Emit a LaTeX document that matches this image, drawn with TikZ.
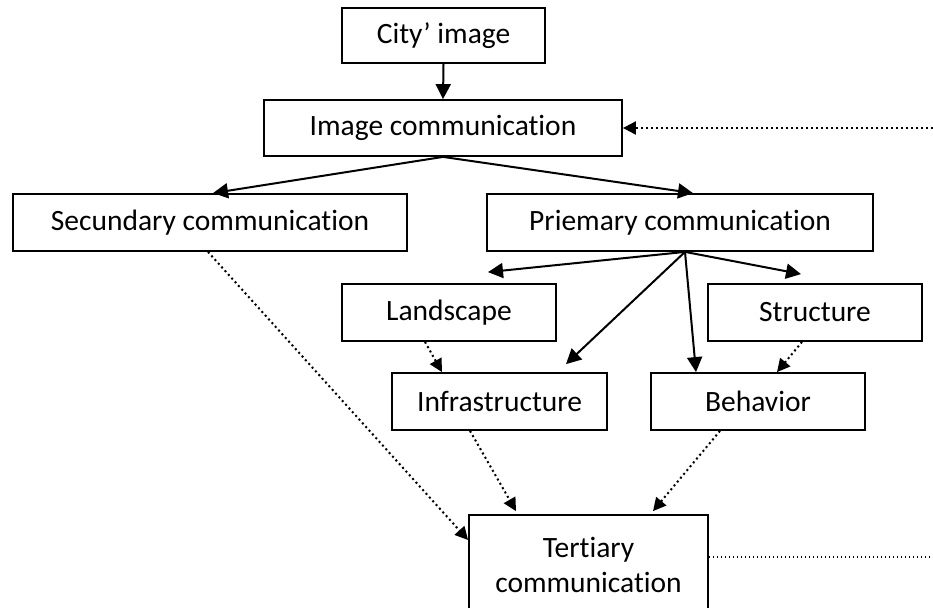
\documentclass[tikz,border=0pt]{standalone}
\usepackage{fontspec}
\setmainfont{Carlito}[Ligatures=NoCommon]
\usetikzlibrary{arrows.meta,positioning}

\begin{document}
\begin{tikzpicture}[x=1pt,y=-1pt,
    box/.style={draw,line width=1.8pt,align=center,inner sep=2pt,minimum height=57pt,font=\fontsize{29.5}{35}\selectfont},
    flow/.style={-{Triangle[length=15pt,width=15pt]},line width=2pt},
    dotflow/.style={-{Triangle[length=13pt,width=13pt]},line width=2pt,dash pattern=on 2pt off 3pt},
    dotline/.style={line width=1.5pt,dash pattern=on 1.5pt off 2.5pt}
]
\useasboundingbox (0,0) rectangle (933,607);
\node[box,minimum width=203pt,minimum height=55pt] (city) at (443.5,35.5) {City’ image};
\node[box,minimum width=358pt,minimum height=56pt] (imgcomm) at (443,128) {Image communication};
\node[box,minimum width=394pt] (secundary) at (210,222.5) {Secundary communication};
\node[box,minimum width=386pt] (priemary) at (680,222.5) {Priemary communication};
\node[box,minimum width=214pt] (landscape) at (449,312.5) {Landscape};
\node[box,minimum width=214pt] (structure) at (815,312.5) {Structure};
\node[box,minimum width=215pt] (infra) at (499.5,401.5) {Infrastructure};
\node[box,minimum width=214pt] (behavior) at (758,401.5) {Behavior};
\node[box,minimum width=239pt,minimum height=99pt] (tertiary) at (588.5,564.5) {Tertiary\\communication};
\coordinate (feedin) at (933,128);
\coordinate (feedout) at (933,557);

% main flow
\draw[flow] (city.south) -- (imgcomm.north);
\draw[flow] (imgcomm.south) -- ([xshift=3pt]secundary.north);
\draw[flow] (imgcomm.south) -- ([xshift=13pt]priemary.north);
\draw[flow] ([xshift=5pt]priemary.south) -- ([xshift=39pt,yshift=11pt]landscape.north);
\draw[flow] ([xshift=5pt]priemary.south) -- ([xshift=-14pt,yshift=9pt]structure.north);
\draw[flow] ([xshift=5pt]priemary.south) -- ([xshift=66.5pt,yshift=8pt]infra.north);
\draw[flow] ([xshift=5pt]priemary.south) -- ([xshift=-62pt]behavior.north);

% dotted links
\draw[dotflow] ([xshift=-24pt]landscape.south) -- ([xshift=-57.5pt]infra.north);
\draw[dotflow] ([xshift=-13pt]structure.south) -- ([xshift=19pt]behavior.north);
\draw[dotflow] ([xshift=-2pt]secundary.south) -- ([yshift=24.5pt]tertiary.west);
\draw[dotflow] ([xshift=-29.5pt]infra.south) -- ([xshift=-72.5pt,yshift=3pt]tertiary.north);
\draw[dotflow] ([xshift=-38pt]behavior.south) -- ([xshift=64.5pt,yshift=3pt]tertiary.north);
\draw[dotflow] (feedin) -- (imgcomm.east);
\draw[dotline] ([yshift=7.5pt]tertiary.east) -- (feedout);
\end{tikzpicture}
\end{document}
